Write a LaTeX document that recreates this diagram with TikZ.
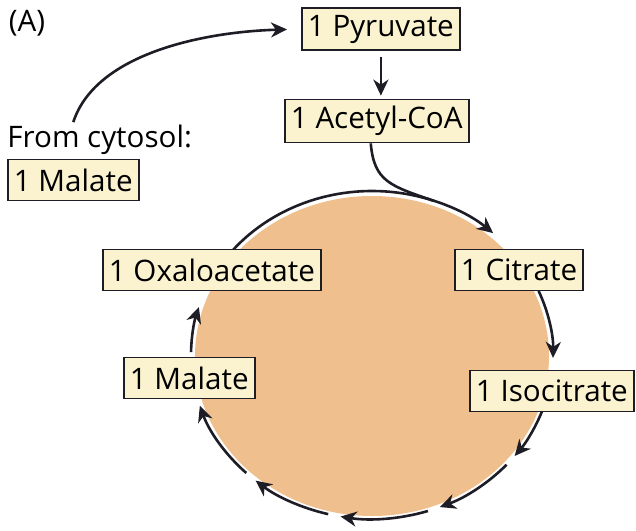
\documentclass[tikz,border=0pt]{standalone}
\usepackage{fontspec}
\setmainfont{Open Sans}
\usetikzlibrary{arrows.meta, positioning}
\definecolor{boxfill}{HTML}{FBF3D0}
\definecolor{discfill}{HTML}{EFC08E}
\definecolor{ink}{HTML}{1E1D26}

\begin{document}
\begin{tikzpicture}[x=0.5pt, y=-0.5pt,
  metbox/.style={rectangle, draw=ink, line width=0.9pt, fill=boxfill, anchor=west,
    minimum height=20.5pt, inner xsep=3pt, font=\fontsize{14.8}{16}\selectfont},
  plain/.style={inner sep=1pt, font=\fontsize{14.8}{16}\selectfont},
  arr/.style={-{Stealth[length=8pt, width=7.5pt, inset=2.5pt]}, line width=1.3pt, draw=ink},
  link/.style={line width=1.3pt, draw=ink}
]
  \useasboundingbox (0,0) rectangle (636,530);

  % matrix of the mitochondrion
  \fill[discfill] (372,356) ellipse [x radius=177, y radius=160];

  % the cycle, clockwise
  \foreach \a/\b in {-140/-48, -23/1, 20/38, 42/68, 72/100, 104/130, 134/162, 181/197}
    \draw[arr] ({372+181*cos(\a)},{355+164*sin(\a)})
      arc[start angle=\a, end angle=\b, x radius=181, y radius=164];
  \coordinate (join) at ({372+181*cos(-70)},{355+164*sin(-70)});

  \node[metbox] (pyruvate)   at (301,29)  {1 Pyruvate};
  \node[metbox] (acetyl)     at (284,121) {1 Acetyl-CoA};
  \node[metbox] (citrate)    at (454,270) {1 Citrate};
  \node[metbox] (isocitrate) at (469,391) {1 Isocitrate};
  \node[metbox] (malate)     at (123,378) {1 Malate};
  \node[metbox] (oxalo)      at (102,270) {1 Oxaloacetate};
  \node[metbox] (malcyt)     at (7,180)   {1 Malate};
  \node[plain, anchor=base west] (fromcyt) at (5,147) {From cytosol:};
  \node[plain] (panel) at (27,23) {(A)};

  \draw[arr, shorten <=3pt, shorten >=1.5pt] (pyruvate.south) -- (pyruvate.south |- acetyl.north);
  \draw[link] ([xshift=-3pt]acetyl.south) .. controls (374,182) and (391,186) .. (join);
  \draw[arr, shorten >=7pt] (fromcyt.north -| malcyt)
    .. controls (95,55) and (200,32) .. (pyruvate.west);
\end{tikzpicture}
\end{document}
